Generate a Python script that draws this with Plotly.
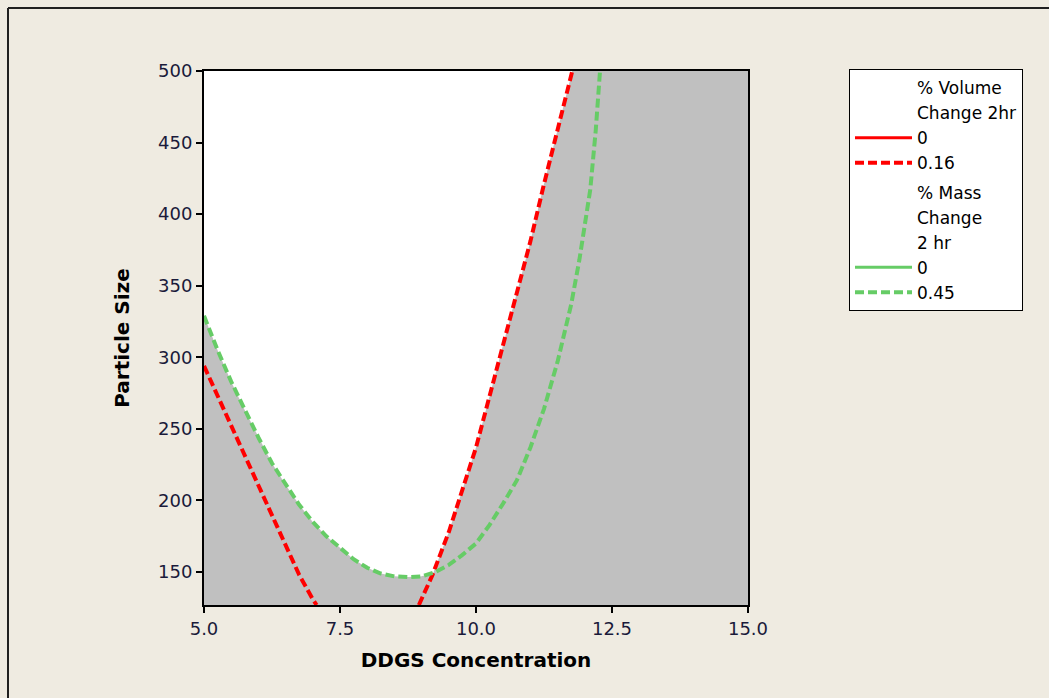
import numpy as np
import plotly.graph_objects as go

# ---- data ----
# % Mass Change 2 hr = 0.45 contour (green dashed)
green_x = [5.0, 5.25, 5.5, 5.75, 6.0, 6.25, 6.5, 6.75, 7.0, 7.25, 7.5, 7.75, 8.0, 8.25,
           8.5, 8.75, 9.0, 9.25, 9.5, 9.75, 10.0, 10.25, 10.5, 10.75, 11.0, 11.25, 11.5,
           11.75, 11.9, 12.0, 12.1, 12.2, 12.28]
green_y = [329, 305, 283, 263, 244, 226, 211, 197, 185, 175, 167, 159, 153, 149,
           147, 146.5, 147, 150, 155, 162, 170, 183, 198, 214, 237, 264, 297,
           337, 368, 392, 417, 458, 500]

# % Volume Change 2hr = 0.16 contour (red dashed), two branches
red_left_x = [5.0, 5.25, 5.5, 5.75, 6.0, 6.25, 6.5, 6.75, 7.0, 7.07]
red_left_y = [294, 273, 252, 231, 210, 190, 168, 148, 131, 127]
red_right_x = [8.95, 9.2, 9.5, 9.75, 10.0, 10.25, 10.5, 10.75, 11.0, 11.25, 11.5, 11.77]
red_right_y = [127, 148, 178, 207, 237, 273, 309, 345, 381, 421, 458, 500]

x_range = [5.0, 15.0]
y_range = [127, 500]
x_ticks = [5.0, 7.5, 10.0, 12.5, 15.0]
y_ticks = [150, 200, 250, 300, 350, 400, 450, 500]

vol_title = ["% Volume", "Change 2hr"]
mass_title = ["% Mass", "Change", "2 hr"]

RED = "#ff0000"
GREEN = "#66cc66"
GRAY = "#c0c0c0"
BG = "#efebe1"
TXT = "#1a1a3a"

# ---- feasible (white) region: above green contour, left of red right branch ----
gx = np.array(green_x, float); gy = np.array(green_y, float)
rx = np.array(red_right_x, float); ry = np.array(red_right_y, float)
xs = np.linspace(rx[0], gx[-1], 2000)
diff = np.interp(xs, rx, ry) - np.interp(xs, gx, gy)
i = np.where(np.diff(np.sign(diff)) != 0)[0][0]
x_int = xs[i] - diff[i] * (xs[i + 1] - xs[i]) / (diff[i + 1] - diff[i])
y_int = float(np.interp(x_int, gx, gy))

poly_x = [x_range[0]] + [x for x in green_x if x < x_int] + [x_int] + \
         [x for x in red_right_x if x > x_int] + [x_range[0]]
poly_y = [y_range[1]] + [y for x, y in zip(green_x, green_y) if x < x_int] + [y_int] + \
         [y for x, y in zip(red_right_x, red_right_y) if x > x_int] + [y_range[1]]

fig = go.Figure()
fig.add_trace(go.Scatter(x=poly_x, y=poly_y, fill="toself", fillcolor="white",
                         mode="lines", line=dict(width=0), showlegend=False,
                         hoverinfo="skip"))

DASH = "9px,4px"


def title_entry(text, group):
    return go.Scatter(x=[None], y=[None], mode="lines", name=text, legendgroup=group,
                      line=dict(color="rgba(0,0,0,0)", width=0), hoverinfo="skip")


for t in vol_title:
    fig.add_trace(title_entry(t, "vol"))
fig.add_trace(go.Scatter(x=[None], y=[None], mode="lines", name="0", legendgroup="vol",
                         line=dict(color=RED, width=3)))
fig.add_trace(go.Scatter(x=red_left_x + [None] + red_right_x,
                         y=red_left_y + [None] + red_right_y,
                         mode="lines", name="0.16", legendgroup="vol",
                         line=dict(color=RED, width=4, dash=DASH)))
for t in mass_title:
    fig.add_trace(title_entry(t, "mass"))
fig.add_trace(go.Scatter(x=[None], y=[None], mode="lines", name="0", legendgroup="mass",
                         line=dict(color=GREEN, width=3)))
fig.add_trace(go.Scatter(x=green_x, y=green_y, mode="lines", name="0.45",
                         legendgroup="mass",
                         line=dict(color=GREEN, width=4, dash=DASH)))

axis_common = dict(showline=True, linecolor="black", linewidth=2, mirror=True,
                   ticks="outside", ticklen=6, tickwidth=2, tickcolor="black",
                   showgrid=False, zeroline=False,
                   tickfont=dict(family="DejaVu Sans", size=18, color=TXT))

fig.update_xaxes(range=x_range, tickvals=x_ticks, tickformat=".1f",
                 title=dict(text="<b>DDGS Concentration</b>", standoff=15,
                            font=dict(family="DejaVu Sans", size=20, color="black")),
                 **axis_common)
fig.update_yaxes(range=y_range, tickvals=y_ticks,
                 title=dict(text="<b>Particle Size</b>", standoff=23,
                            font=dict(family="DejaVu Sans", size=20, color="black")),
                 **axis_common)

W, H = 1049, 698
L, R, T, B = 204, 301, 71, 93
pw, ph = W - L - R, H - T - B
fx = lambda px: (px - L) / pw
fy = lambda py: (H - B - py) / ph

fig.update_layout(
    width=W, height=H,
    margin=dict(l=L, r=R, t=T, b=B),
    paper_bgcolor=BG, plot_bgcolor=GRAY,
    font=dict(family="DejaVu Sans", size=16, color="black"),
    legend=dict(x=fx(849), y=fy(69), xanchor="left", yanchor="top",
                bgcolor="white", bordercolor="black", borderwidth=1,
                itemwidth=57, tracegroupgap=4,
                font=dict(family="DejaVu Sans", size=17, color="black")),
    shapes=[
        dict(type="line", xref="paper", yref="paper", x0=fx(8), x1=fx(8),
             y0=fy(H + 5), y1=fy(8), line=dict(color="#202020", width=2)),
        dict(type="line", xref="paper", yref="paper", x0=fx(8), x1=fx(W + 5),
             y0=fy(8), y1=fy(8), line=dict(color="#202020", width=2)),
    ],
)

fig.write_html("out.html", config={"displayModeBar": False},
               post_script="document.body.style.margin='0';")
